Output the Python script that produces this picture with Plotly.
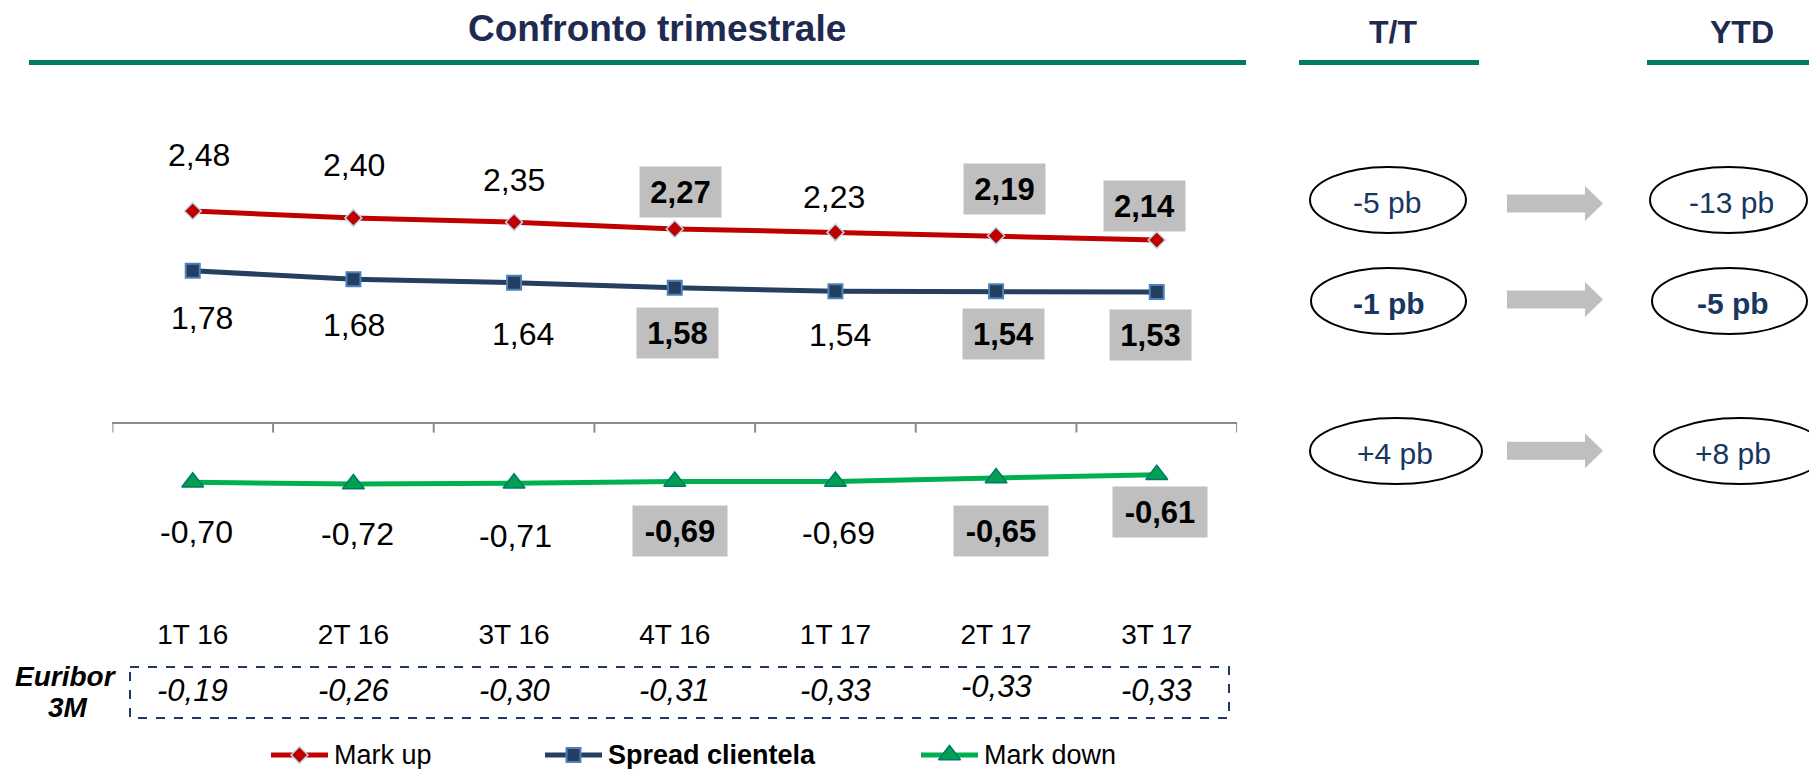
import plotly.graph_objects as go

# ---------------- data ----------------
categories = ["1T 16", "2T 16", "3T 16", "4T 16", "1T 17", "2T 17", "3T 17"]
mark_up = [2.48, 2.40, 2.35, 2.27, 2.23, 2.19, 2.14]
spread_clientela = [1.78, 1.68, 1.64, 1.58, 1.54, 1.54, 1.53]
mark_down = [-0.70, -0.72, -0.71, -0.69, -0.69, -0.65, -0.61]
euribor_3m = [-0.19, -0.26, -0.30, -0.31, -0.33, -0.33, -0.33]
highlight_idx = [3, 5, 6]

series_names = ["Mark up", "Spread clientela", "Mark down"]
tt_labels = ["-5 pb", "-1 pb", "+4 pb"]
ytd_labels = ["-13 pb", "-5 pb", "+8 pb"]

# ---------------- layout constants ----------------
W, H = 1809, 769
FONT = "Liberation Sans, Arial, sans-serif"
NAVY_T = "#1F2A50"
RULE = "#007A60"
PX_PER_UNIT = 85.3
ZERO_PX = 422.6
TOP_PX, BOT_PX = 100, 615
X_LEFT, X_RIGHT = 112.4, 1237.1
ymax = (ZERO_PX - TOP_PX) / PX_PER_UNIT
ymin = (ZERO_PX - BOT_PX) / PX_PER_UNIT

styles = {
    "Mark up": dict(line="#C00000", sym="diamond", size=13, mfill="#C00000", mline="#B7DDE8", mlw=1.5),
    "Spread clientela": dict(line="#243F60", sym="square", size=14, mfill="#243F60", mline="#4F81BD", mlw=2),
    "Mark down": dict(line="#00B050", sym="triangle-up", size=19, mfill="#00A050", mline="#00796B", mlw=1.5),
}
# label offsets (pixels, positive = downward) and horizontal nudges
label_dy = {
    "Mark up": [-56, -53, -42, -37, -35, -47, -34],
    "Spread clientela": [47, 46, 51, 45, 44, 43, 43],
    "Mark down": [50, 50, 53, 50, 52, 53, 37],
}
label_dx = {
    "Mark up": [6, 1, 0, 6, -1, 8, -12],
    "Spread clientela": [9, 1, 9, 3, 5, 7, -6],
    "Mark down": [4, 4, 1, 5, 3, 5, 3],
}
euribor_dy = [0, 0, 0, 0, 0, -4, 0]


def fmt(v):
    return f"{v:.2f}".replace(".", ",")


fig = go.Figure()
values = {"Mark up": mark_up, "Spread clientela": spread_clientela, "Mark down": mark_down}

for name in series_names:
    st = styles[name]
    fig.add_trace(go.Scatter(
        x=categories, y=values[name], mode="lines+markers", name=name,
        line=dict(color=st["line"], width=5),
        marker=dict(symbol=st["sym"], size=st["size"], color=st["mfill"],
                    line=dict(color=st["mline"], width=st["mlw"])),
        cliponaxis=False, showlegend=False, hoverinfo="skip",
        xaxis="x", yaxis="y",
    ))

annotations = []
for name in series_names:
    for i, v in enumerate(values[name]):
        hl = i in highlight_idx
        txt = fmt(v)
        a = dict(x=categories[i], y=v, xref="x", yref="y", showarrow=False,
                 text=f"<b>{txt}</b>" if hl else txt,
                 font=dict(family=FONT, size=31 if hl else 32, color="black"),
                 xshift=label_dx[name][i], yshift=-label_dy[name][i],
                 xanchor="center", yanchor="middle")
        if hl:
            a.update(bgcolor="#BFBFBF", width=92 if v < 0 else 79, height=48,
                     align="center", valign="middle")
        annotations.append(a)

# axis tick marks at category boundaries on the zero line
shapes = []
for b in range(len(categories) + 1):
    shapes.append(dict(type="line", xref="x", x0=b - 0.5, x1=b - 0.5,
                       yref="y", ysizemode="pixel", yanchor=0, y0=0, y1=-10,
                       line=dict(color="#8C8C8C", width=2)))

# Euribor row
for i, v in enumerate(euribor_3m):
    annotations.append(dict(x=categories[i], y=690 + euribor_dy[i], xref="x", yref="y2",
                            showarrow=False, text=f"<i>{fmt(v)}</i>",
                            font=dict(family=FONT, size=31, color="black")))
shapes.append(dict(type="rect", xref="x2", yref="y2", x0=130, x1=1229, y0=667, y1=718,
                   line=dict(color="#1F3864", width=2, dash="dash")))
annotations.append(dict(x=66, y=676, xref="x2", yref="y2", showarrow=False,
                        text="<b><i>Euribor</i></b>", font=dict(family=FONT, size=28, color="black")))
annotations.append(dict(x=68, y=707, xref="x2", yref="y2", showarrow=False,
                        text="<b><i>3M</i></b>", font=dict(family=FONT, size=28, color="black")))

# Headers and rules
annotations.append(dict(x=657, y=28, xref="x2", yref="y2", showarrow=False,
                        text="<b>Confronto trimestrale</b>", font=dict(family=FONT, size=37, color=NAVY_T)))
annotations.append(dict(x=1393, y=32, xref="x2", yref="y2", showarrow=False,
                        text="<b>T/T</b>", font=dict(family=FONT, size=32, color=NAVY_T)))
annotations.append(dict(x=1742, y=32, xref="x2", yref="y2", showarrow=False,
                        text="<b>YTD</b>", font=dict(family=FONT, size=32, color=NAVY_T)))
for (x0, x1) in [(29, 1246), (1299, 1479), (1647, 1809)]:
    shapes.append(dict(type="rect", xref="x2", yref="y2", x0=x0, x1=x1, y0=60, y1=65,
                       fillcolor=RULE, line=dict(width=0)))

# Right panel: ellipses + arrows
row_y = [200, 301, 451]
arrow_y = [203.5, 299.5, 450.8]
left_ell = [(1310, 1466), (1311, 1466), (1310, 1482)]
right_ell = [(1650, 1807), (1652, 1807), (1654, 1826)]
left_txt_x = [1387, 1389, 1395]
right_txt_x = [1731, 1733, 1733]
for r in range(3):
    cy = row_y[r]
    for (x0, x1) in (left_ell[r], right_ell[r]):
        shapes.append(dict(type="circle", xref="x2", yref="y2", x0=x0, x1=x1,
                           y0=cy - 33, y1=cy + 33, line=dict(color="black", width=2)))
    ay = arrow_y[r]
    path = (f"M1507,{ay-9} L1585,{ay-9} L1585,{ay-17.5} L1603,{ay} "
            f"L1585,{ay+17.5} L1585,{ay+9} L1507,{ay+9} Z")
    shapes.append(dict(type="path", xref="x2", yref="y2", path=path,
                       fillcolor="#BFBFBF", line=dict(width=0)))
    bold = r == 1
    for txt, x in ((tt_labels[r], left_txt_x[r]), (ytd_labels[r], right_txt_x[r])):
        annotations.append(dict(x=x, y=cy + 2, xref="x2", yref="y2", showarrow=False,
                                text=f"<b>{txt}</b>" if bold else txt,
                                font=dict(family=FONT, size=30, color="#17375E")))

# Custom legend
leg_x = [271, 545, 921]
leg_y = 755
for k, name in enumerate(series_names):
    st = styles[name]
    x0 = leg_x[k]
    fig.add_trace(go.Scatter(x=[x0, x0 + 57], y=[leg_y, leg_y], mode="lines",
                             line=dict(color=st["line"], width=5), showlegend=False,
                             hoverinfo="skip", xaxis="x2", yaxis="y2", cliponaxis=False))
    fig.add_trace(go.Scatter(x=[x0 + 28.5], y=[leg_y], mode="markers",
                             marker=dict(symbol=st["sym"], size=st["size"], color=st["mfill"],
                                         line=dict(color=st["mline"], width=st["mlw"])),
                             showlegend=False, hoverinfo="skip", xaxis="x2", yaxis="y2",
                             cliponaxis=False))
    annotations.append(dict(x=x0 + 61, y=leg_y, xref="x2", yref="y2", showarrow=False,
                            xanchor="left",
                            text=f"<b>{name}</b>" if name == "Spread clientela" else name,
                            font=dict(family=FONT, size=27, color="black")))

fig.update_layout(
    width=W, height=H,
    margin=dict(l=0, r=0, t=0, b=0),
    paper_bgcolor="white", plot_bgcolor="rgba(0,0,0,0)",
    showlegend=False,
    xaxis=dict(domain=[X_LEFT / W, X_RIGHT / W], range=[-0.5, 6.5], type="category",
               showgrid=False, zeroline=False, showline=False, ticks="",
               tickfont=dict(family=FONT, size=28, color="black"), anchor="y",
               fixedrange=True),
    yaxis=dict(domain=[1 - BOT_PX / H, 1 - TOP_PX / H], range=[ymin, ymax],
               showgrid=False, showticklabels=False, showline=False, ticks="",
               zeroline=True, zerolinecolor="#8C8C8C", zerolinewidth=2,
               anchor="x", fixedrange=True),
    xaxis2=dict(domain=[0, 1], range=[0, W], visible=False, anchor="y2", fixedrange=True),
    yaxis2=dict(domain=[0, 1], range=[H, 0], visible=False, anchor="x2", fixedrange=True),
    annotations=annotations,
    shapes=shapes,
)

fig.write_html("out.html", config={"displayModeBar": False},
               post_script="document.body.style.margin='0';document.body.style.overflow='hidden';")
